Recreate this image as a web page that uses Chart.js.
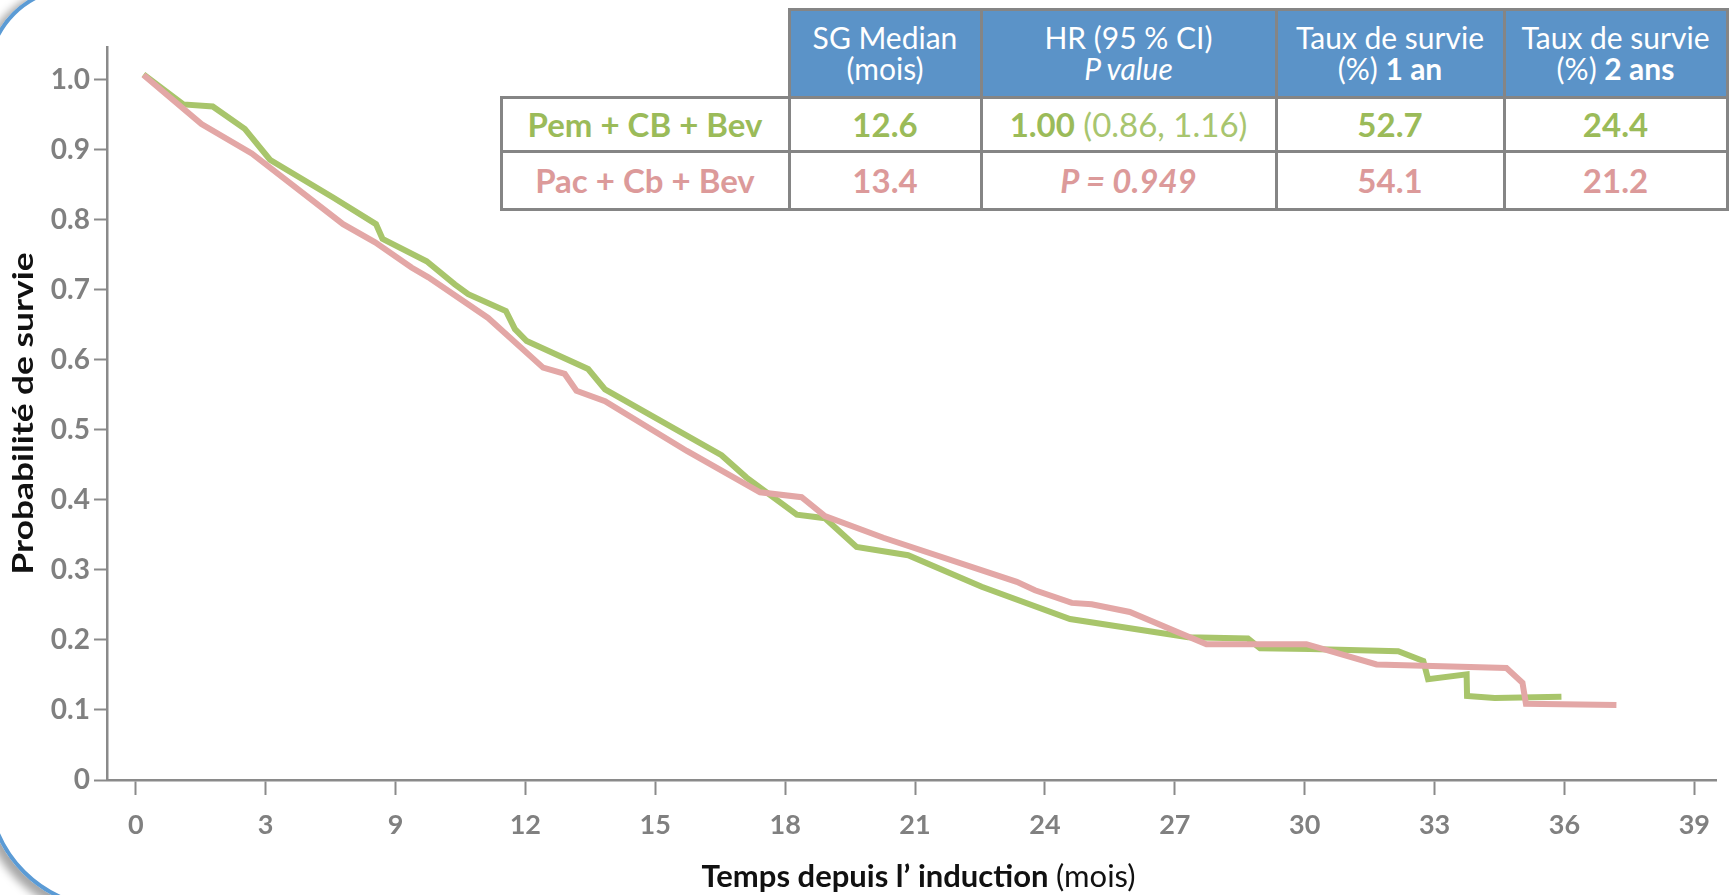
<!DOCTYPE html>
<html>
<head>
<meta charset="utf-8">
<script src="https://cdn.jsdelivr.net/npm/chart.js@4.4.1/dist/chart.umd.min.js"></script>
<style>
  html, body { margin: 0; padding: 0; background: #fff; }
  body { width: 1730px; height: 895px; overflow: hidden; position: relative; font-family: Lato, "Open Sans", sans-serif; }
  #frame {
    position: absolute; left: -14px; top: -14px; width: 1860px; height: 924px;
    box-sizing: border-box; border: 4px solid #5b9bd5;
    border-radius: 90px 90px 90px 125px;
    box-shadow: -4px 4px 9px 3px rgba(0,0,0,0.35);
  }
  #chart { position: absolute; left: 0; top: 0; }
  .cell {
    position: absolute; box-sizing: border-box; border: 3px solid #858585;
    display: flex; flex-direction: column; align-items: center; justify-content: center;
    text-align: center; white-space: nowrap; background: #fff;
  }
  .head { background: #5b93c8; color: #fff; font-size: 30px; line-height: 31px; }
  .body { font-size: 33px; line-height: 36px; }
  .pem { color: #9bbb59; }
  .pac { color: #dc9a9a; }
  .light { color: #a8c56f; font-weight: normal; }
</style>
</head>
<body>
<div id="frame"></div>
<canvas id="chart" width="1730" height="895"></canvas>
<div id="table"></div>
<script>
// Time axis: tick positions (months) and the labels printed under them
const xTickValues = [0, 3, 6, 9, 12, 15, 18, 21, 24, 27, 30, 33, 36];
const xTickLabels = ['0', '3', '9', '12', '15', '18', '21', '24', '27', '30', '33', '36', '39'];
const yTickValues = [0, 0.1, 0.2, 0.3, 0.4, 0.5, 0.6, 0.7, 0.8, 0.9, 1.0];

// Pem + CB + Bev survival curve
const pemMonths = [0.18, 1.10, 1.78, 2.52, 3.10, 4.56, 5.55, 5.70, 6.72, 7.37, 7.68, 8.55, 8.76, 9.03, 10.45, 10.84,
  13.53, 14.11, 15.27, 15.92, 16.65, 17.84, 19.54, 21.58, 24.31, 25.69, 25.97, 27.12, 29.16, 29.74, 29.85, 30.74,
  30.75, 31.39, 32.93];
const pemSurvival = [1.008, 0.965, 0.962, 0.930, 0.886, 0.832, 0.794, 0.773, 0.741, 0.708, 0.694, 0.670, 0.644, 0.627, 0.587, 0.558,
  0.464, 0.432, 0.379, 0.374, 0.333, 0.321, 0.276, 0.230, 0.204, 0.202, 0.188, 0.187, 0.184, 0.170, 0.144, 0.151,
  0.120, 0.117, 0.119];

// Pac + Cb + Bev survival curve
const pacMonths = [0.18, 1.52, 2.68, 3.64, 4.79, 5.53, 6.37, 6.76, 8.14, 8.64, 9.41, 9.91, 10.18, 10.84, 12.73,
  14.42, 15.38, 15.92, 17.27, 20.35, 20.77, 21.62, 22.08, 22.96, 24.73, 27.04, 28.66, 31.66, 32.03, 32.11, 34.20];
const pacSurvival = [1.007, 0.937, 0.895, 0.849, 0.794, 0.768, 0.732, 0.718, 0.660, 0.632, 0.589, 0.580, 0.556, 0.541, 0.470,
  0.411, 0.404, 0.377, 0.346, 0.283, 0.271, 0.253, 0.251, 0.240, 0.194, 0.194, 0.165, 0.160, 0.139, 0.109, 0.107];

// Summary table
const tableHeaders = [
  ['SG Median', '(mois)'],
  ['HR (95 % CI)', '<i>P value</i>'],
  ['Taux de survie', '(%) <b>1 an</b>'],
  ['Taux de survie', '(%) <b>2 ans</b>']
];
const armNames = ['Pem + CB + Bev', 'Pac + Cb + Bev'];
const medianOS = ['12.6', '13.4'];
const hrCells = ['<b>1.00</b><span class="light"> (0.86, 1.16)</span>', '<b><i>P = 0.949</i></b>'];
const survival1y = ['52.7', '54.1'];
const survival2y = ['24.4', '21.2'];

const GREEN = '#a8c56b';
const PINK = '#e3a7a6';
const AXIS = '#8a8a8a';

function toPoints(xs, ys) { return xs.map((x, i) => ({ x: x, y: ys[i] })); }

// Axis titles: the time title mixes a bold part with a regular "(mois)",
// the vertical title is stretched along its length like the rest of the slide.
const xTitleBold = 'Temps depuis l\u2019 induction ';
const xTitleRegular = '(mois)';
const yTitle = 'Probabilit\u00e9 de survie';
const axisTitlePlugin = {
  id: 'axisTitles',
  afterDraw(chart) {
    const ctx = chart.ctx;
    const area = chart.chartArea;
    ctx.save();
    const fb = 'bold 31px Lato';
    const fr = '31px Lato';
    ctx.font = fb; const w1 = ctx.measureText(xTitleBold).width;
    ctx.font = fr; const w2 = ctx.measureText(xTitleRegular).width;
    const cx = (area.left + area.right) / 2 + 7;
    const x0 = cx - (w1 + w2) / 2;
    ctx.textBaseline = 'middle';
    ctx.textAlign = 'left';
    ctx.fillStyle = '#111';
    ctx.font = fb; ctx.fillText(xTitleBold, x0, 877);
    ctx.font = fr; ctx.fillText(xTitleRegular, x0 + w1, 877);
    ctx.restore();

    ctx.save();
    ctx.font = 'bold 29px Lato';
    const wy = ctx.measureText(yTitle).width;
    const stretch = 322 / wy;
    ctx.translate(24, (area.top + area.bottom) / 2);
    ctx.rotate(-Math.PI / 2);
    ctx.scale(stretch, 1);
    ctx.textAlign = 'center';
    ctx.textBaseline = 'middle';
    ctx.fillStyle = '#111';
    ctx.fillText(yTitle, 0, 0);
    ctx.restore();
  }
};

new Chart(document.getElementById('chart'), {
  type: 'line',
  data: {
    datasets: [
      { label: armNames[0], data: toPoints(pemMonths, pemSurvival), borderColor: GREEN, borderWidth: 6,
        pointRadius: 0, tension: 0, fill: false, order: 1, borderJoinStyle: 'miter' },
      { label: armNames[1], data: toPoints(pacMonths, pacSurvival), borderColor: PINK, borderWidth: 6,
        pointRadius: 0, tension: 0, fill: false, order: 0, borderJoinStyle: 'miter' }
    ]
  },
  options: {
    responsive: false,
    devicePixelRatio: 1,
    animation: false,
    layout: { padding: { top: 47, right: 14, bottom: 0, left: 0 } },
    plugins: { legend: { display: false }, tooltip: { enabled: false } },
    scales: {
      x: {
        type: 'linear', min: -0.663, max: 36.5,
        afterFit(scale) { scale.height = 115; },
        afterBuildTicks(scale) { scale.ticks = xTickValues.map(v => ({ value: v })); },
        border: { display: true, color: AXIS, width: 2.5 },
        grid: { display: true, drawOnChartArea: false, drawTicks: true, tickLength: 15, tickWidth: 2, tickColor: AXIS },
        ticks: {
          autoSkip: false, maxRotation: 0, padding: 14, color: '#808080',
          font: { family: 'Lato', weight: 'bold', size: 27 },
          callback: (value, index) => xTickLabels[index]
        }
      },
      y: {
        type: 'linear', min: 0, max: 1.047,
        afterFit(scale) { scale.width = 107; },
        afterBuildTicks(scale) { scale.ticks = yTickValues.map(v => ({ value: v })); },
        border: { display: true, color: AXIS, width: 2.5 },
        grid: { display: true, drawOnChartArea: false, drawTicks: true, tickLength: 13, tickWidth: 2, tickColor: AXIS },
        ticks: {
          padding: 4, color: '#808080',
          font: { family: 'Lato', weight: 'bold', size: 28 },
          callback: (value) => value === 0 ? '0' : value.toFixed(1)
        }
      }
    }
  },
  plugins: [axisTitlePlugin]
});

// Table: column and row boundaries on the page
(function buildTable() {
  const colX = [501, 789, 981, 1276, 1504, 1727];
  const rowY = [9, 97, 151, 209];
  const host = document.getElementById('table');
  function cell(c, r, html, cls) {
    const d = document.createElement('div');
    d.className = 'cell ' + cls;
    d.style.left = (colX[c] - 1.5) + 'px';
    d.style.top = (rowY[r] - 1.5) + 'px';
    d.style.width = (colX[c + 1] - colX[c] + 3) + 'px';
    d.style.height = (rowY[r + 1] - rowY[r] + 3) + 'px';
    d.innerHTML = html;
    host.appendChild(d);
  }
  tableHeaders.forEach((lines, i) => cell(i + 1, 0, lines.map(l => '<div>' + l + '</div>').join(''), 'head'));
  const cls = ['pem', 'pac'];
  for (let r = 0; r < 2; r++) {
    const k = 'body ' + cls[r];
    cell(0, r + 1, '<div><b>' + armNames[r] + '</b></div>', k);
    cell(1, r + 1, '<div><b>' + medianOS[r] + '</b></div>', k);
    cell(2, r + 1, '<div>' + hrCells[r] + '</div>', k);
    cell(3, r + 1, '<div><b>' + survival1y[r] + '</b></div>', k);
    cell(4, r + 1, '<div><b>' + survival2y[r] + '</b></div>', k);
  }
})();
</script>
</body>
</html>
